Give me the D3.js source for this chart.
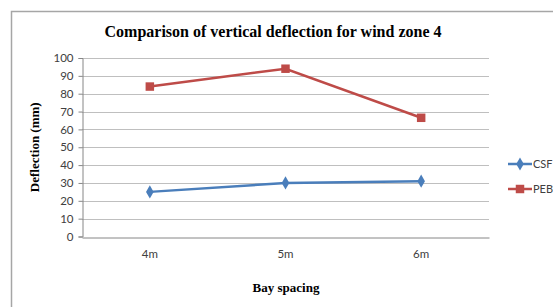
<!DOCTYPE html>
<html>
<head>
<meta charset="utf-8">
<script src="https://cdn.jsdelivr.net/npm/d3@7"></script>
<style>
  body { margin: 0; background: #fff; }
  svg { display: block; }
</style>
</head>
<body>
<div id="chart"></div>
<script>
const categories = ['4m', '5m', '6m'];
const csfValues = [25, 30, 31];
const pebValues = [84, 94, 66.5];
const yTicks = [0, 10, 20, 30, 40, 50, 60, 70, 80, 90, 100];

const series = [
  { name: 'CSF', values: csfValues, color: '#4a7ebb', symbol: d3.symbolDiamond, size: 50 },
  { name: 'PEB', values: pebValues, color: '#be4b48', symbol: d3.symbolSquare, size: 72 }
];

const width = 553, height = 307;
const plot = { left: 82, right: 489, top: 58, bottom: 236.5 };
const labelFont = 'Lato, "Liberation Sans", sans-serif';

const svg = d3.select('#chart').append('svg')
  .attr('width', width)
  .attr('height', height);

// outer frame (only top and left visible in the crop)
svg.append('path')
  .attr('d', `M11.5,${height} V11.5 H${width}`)
  .attr('fill', 'none')
  .attr('stroke', '#a6a6a6')
  .attr('stroke-width', 1.5);

// title
svg.append('text')
  .text('Comparison of vertical deflection for wind zone 4')
  .attr('x', 273).attr('y', 37)
  .attr('text-anchor', 'middle')
  .attr('font-family', '"Liberation Serif", serif')
  .attr('font-weight', 'bold')
  .attr('font-size', 16)
  .attr('fill', '#000');

const x = d3.scaleBand().domain(categories).range([plot.left, plot.right]);
const y = d3.scaleLinear().domain([0, 100]).range([plot.bottom, plot.top]);

// gridlines
svg.append('g')
  .selectAll('line')
  .data(yTicks.filter(d => d > 0))
  .enter()
  .append('line')
  .attr('x1', plot.left).attr('x2', plot.right)
  .attr('y1', d => Math.round(y(d)) + 0.5)
  .attr('y2', d => Math.round(y(d)) + 0.5)
  .attr('stroke', '#bfbfbf')
  .attr('stroke-width', 1);

// y axis
const yAxis = svg.append('g')
  .attr('transform', `translate(${plot.left + 0.5},0)`)
  .call(d3.axisLeft(y).tickValues(yTicks).tickSize(4).tickPadding(5));
yAxis.select('.domain').attr('stroke', '#868686');
yAxis.selectAll('.tick line').attr('stroke', '#868686');
yAxis.selectAll('.tick text')
  .attr('font-family', labelFont)
  .attr('font-size', 11.5)
  .attr('fill', '#404040');

// x axis
const xAxis = svg.append('g')
  .attr('transform', `translate(0,${Math.round(plot.bottom) + 0.5})`)
  .call(d3.axisBottom(x).tickSize(0).tickPadding(12));
xAxis.select('.domain').attr('stroke', '#868686');
xAxis.selectAll('.tick text')
  .attr('font-family', labelFont)
  .attr('font-size', 11.5)
  .attr('fill', '#404040');

// axis titles
svg.append('text')
  .text('Deflection (mm)')
  .attr('transform', `translate(39,${(plot.top + plot.bottom) / 2}) rotate(-90)`)
  .attr('text-anchor', 'middle')
  .attr('font-family', '"Liberation Serif", serif')
  .attr('font-weight', 'bold')
  .attr('font-size', 13)
  .attr('fill', '#000');

svg.append('text')
  .text('Bay spacing')
  .attr('x', 286).attr('y', 292)
  .attr('text-anchor', 'middle')
  .attr('font-family', '"Liberation Serif", serif')
  .attr('font-weight', 'bold')
  .attr('font-size', 13)
  .attr('fill', '#000');

// series lines + markers
const line = d3.line()
  .x((d, i) => x(categories[i]) + x.bandwidth() / 2)
  .y(d => y(d));

series.forEach(s => {
  svg.append('path')
    .datum(s.values)
    .attr('d', line)
    .attr('fill', 'none')
    .attr('stroke', s.color)
    .attr('stroke-width', 2.5);

  svg.append('g')
    .selectAll('path')
    .data(s.values)
    .enter()
    .append('path')
    .attr('d', d3.symbol().type(s.symbol).size(s.size))
    .attr('transform', (d, i) => `translate(${x(categories[i]) + x.bandwidth() / 2},${y(d)})`)
    .attr('fill', s.color);
});

// legend
const legend = svg.append('g').attr('transform', 'translate(508,0)');
series.forEach((s, i) => {
  const ly = 164 + i * 25;
  legend.append('line')
    .attr('x1', 0).attr('x2', 24)
    .attr('y1', ly).attr('y2', ly)
    .attr('stroke', s.color)
    .attr('stroke-width', 2.5);
  legend.append('path')
    .attr('d', d3.symbol().type(s.symbol).size(s.size))
    .attr('transform', `translate(12,${ly})`)
    .attr('fill', s.color);
  legend.append('text')
    .text(s.name)
    .attr('x', 25).attr('y', ly + 4)
    .attr('font-family', labelFont)
    .attr('font-size', 11)
    .attr('fill', '#404040');
});
</script>
</body>
</html>
